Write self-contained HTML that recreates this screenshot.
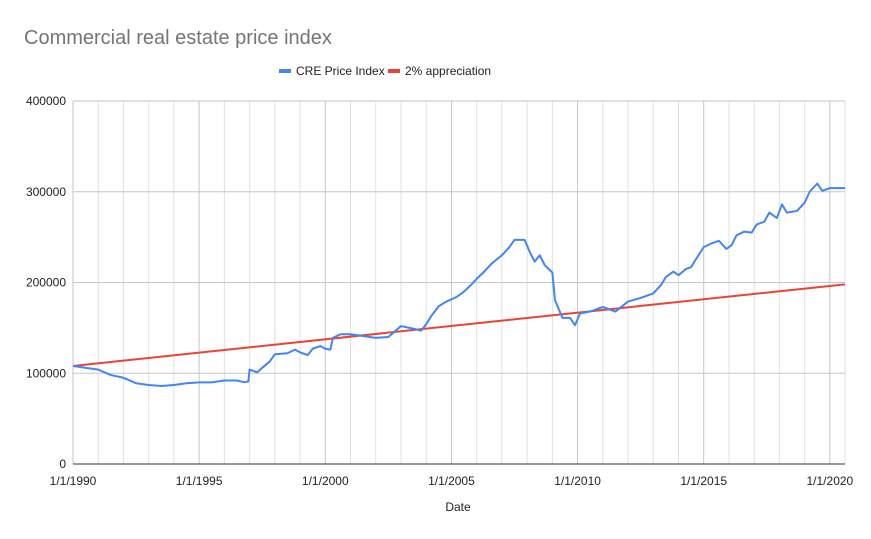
<!DOCTYPE html>
<html><head><meta charset="utf-8"><style>
body{margin:0;background:#fff;}
svg{display:block;font-family:"Liberation Sans",Arial,sans-serif;}
</style></head><body>
<svg id="chart" width="871" height="539">
<text x="24" y="44" font-size="20" fill="#757575">Commercial real estate price index</text>
<g>
<rect x="279" y="69" width="12" height="4" fill="#4285f4"/>
<text x="296" y="75" font-size="12" fill="#222">CRE Price Index</text>
<rect x="388" y="69" width="12" height="4" fill="#ea4335"/>
<text x="405" y="75" font-size="12" fill="#222">2% appreciation</text>
</g>
<g id="grid"></g>
<g id="series"></g>
<g id="axes"></g>
<text x="458" y="511" font-size="12" fill="#222" text-anchor="middle">Date</text>
</svg>
<script>
const yTicks=[0,100000,200000,300000,400000];
const xTickYears=[1990,1995,2000,2005,2010,2015,2020];
const xTickLabels=["1/1/1990","1/1/1995","1/1/2000","1/1/2005","1/1/2010","1/1/2015","1/1/2020"];
const creYears=[1990,1991,1991.5,1992,1992.5,1993,1993.5,1994,1994.5,1995,1995.5,1996,1996.5,1996.8,1996.95,1997.0,1997.3,1997.5,1997.8,1998,1998.5,1998.8,1999,1999.3,1999.5,1999.8,2000,2000.2,2000.3,2000.6,2001,2001.5,2002,2002.5,2003,2003.5,2003.8,2004,2004.2,2004.5,2004.8,2005.2,2005.5,2005.8,2006,2006.3,2006.6,2007,2007.3,2007.5,2007.9,2008.1,2008.3,2008.5,2008.7,2009,2009.1,2009.4,2009.7,2009.9,2010.1,2010.5,2011,2011.5,2012,2012.5,2013,2013.3,2013.5,2013.8,2014,2014.3,2014.5,2014.7,2015,2015.3,2015.6,2015.9,2016.1,2016.3,2016.6,2016.9,2017.1,2017.4,2017.6,2017.9,2018.1,2018.3,2018.7,2019,2019.2,2019.5,2019.7,2020,2020.6];
const creValues=[108000,104000,98000,95000,89000,87000,86000,87000,89000,90000,90000,92000,92000,90000,91000,104000,101000,106000,113000,121000,122000,126000,123000,120000,127000,130000,127000,126000,139000,143000,143000,141000,139000,140000,152000,149000,147000,154000,163000,174000,179000,184000,190000,198000,204000,212000,221000,230000,239000,247000,247000,234000,223000,230000,219000,211000,181000,161000,161000,153000,166000,168000,173000,168000,179000,183000,188000,197000,206000,212000,208000,215000,217000,226000,239000,243000,246000,237000,241000,252000,256000,255000,264000,267000,277000,271000,286000,277000,279000,288000,300000,309000,301000,304000,304000];
const apprStart=108000, apprRate=0.02, apprYears=[1990,2020.6];

const NS="http://www.w3.org/2000/svg";
const L=73,R=845,T=101,B=464,Y0=1990,Y1=2020.6;
const xs=y=>L+(y-Y0)/(Y1-Y0)*(R-L);
const ys=v=>B-v/400000*(B-T);
function mk(tag,attrs,parent){const e=document.createElementNS(NS,tag);for(const k in attrs)e.setAttribute(k,attrs[k]);parent.appendChild(e);return e;}
const grid=document.getElementById('grid'),series=document.getElementById('series'),axes=document.getElementById('axes');
for(let yr=1991;yr<=2020;yr++){
  const major=yr%5===0;
  const ln=mk('line',{x1:xs(yr),x2:xs(yr),y1:T,y2:B,stroke:major?'#c6c6c6':'#e0e0e0','stroke-width':1},grid);
  
  
}
const lv=mk('line',{x1:L,x2:L,y1:T,y2:B,stroke:'#c6c6c6'},grid);


const rv=mk('line',{x1:R,x2:R,y1:T,y2:B,stroke:'#e0e0e0'},grid);


yTicks.forEach(v=>{
  if(v>0){const g=mk('line',{x1:L,x2:R,y1:ys(v),y2:ys(v),stroke:'#c6c6c6'},grid);
  
  }
  const t=mk('text',{x:66,y:ys(v)+4,'font-size':12,fill:'#222','text-anchor':'end'},axes);
  t.textContent=String(v);
  
  
});
const base=mk('line',{x1:L,x2:R,y1:B,y2:B,stroke:'#333','stroke-width':1},axes);


xTickYears.forEach((yr,i)=>{
  const t=mk('text',{x:xs(yr),y:485,'font-size':12,fill:'#222','text-anchor':'middle'},axes);
  t.textContent=xTickLabels[i];
  
  
});
const ap=apprYears.map(y=>xs(y)+','+ys(apprStart*Math.pow(1+apprRate,y-Y0))).join(' ');
const a=mk('polyline',{points:ap,fill:'none',stroke:'#ea4335','stroke-width':2},series);


const cp=creYears.map((y,i)=>xs(y)+','+ys(creValues[i])).join(' ');
const c=mk('polyline',{points:cp,fill:'none',stroke:'#4285f4','stroke-width':2,'stroke-linejoin':'round'},series);


</script>
</body></html>
